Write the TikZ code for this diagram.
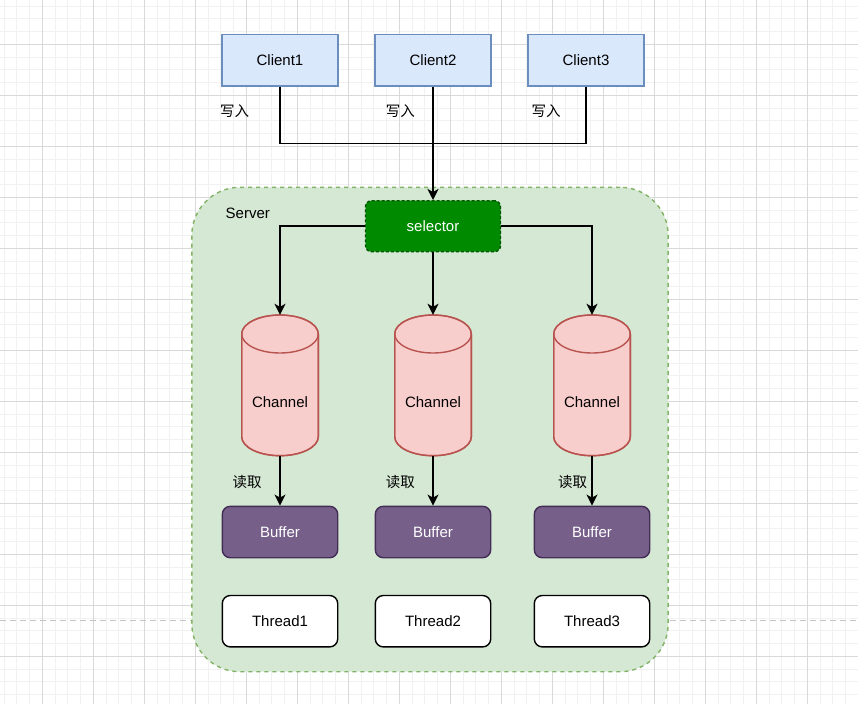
\documentclass[tikz,border=0pt]{standalone}
\usepackage{fontspec}
\setmainfont{Liberation Sans}
\newfontfamily\cjk{Noto Sans CJK SC}
\usetikzlibrary{arrows.meta}
\definecolor{gridminor}{HTML}{F1F1F1}
\definecolor{gridmajor}{HTML}{D9D9D9}
\definecolor{clientfill}{HTML}{DAE8FC}
\definecolor{clientdraw}{HTML}{6C8EBF}
\definecolor{serverfill}{HTML}{D5E8D4}
\definecolor{serverdraw}{HTML}{82B366}
\definecolor{selfill}{HTML}{008A00}
\definecolor{seldraw}{HTML}{005700}
\definecolor{chfill}{HTML}{F8CECC}
\definecolor{chdraw}{HTML}{B85450}
\definecolor{buffill}{HTML}{76608A}
\definecolor{bufdraw}{HTML}{432D57}
\definecolor{sepline}{HTML}{C4C4C4}
\newcommand{\cylpath}[3]{%
  (#1-38.3,#2+19) -- (#1-38.3,#3-19)
  .. controls (#1-38.3,#3-19+10.5) and (#1-21.15,#3) .. (#1,#3)
  .. controls (#1+21.15,#3) and (#1+38.3,#3-19+10.5) .. (#1+38.3,#3-19)
  -- (#1+38.3,#2+19)
  .. controls (#1+38.3,#2+19-10.5) and (#1+21.15,#2) .. (#1,#2)
  .. controls (#1-21.15,#2) and (#1-38.3,#2+19-10.5) .. (#1-38.3,#2+19) -- cycle}
\newcommand{\cyltop}[2]{%
  (#1-38.3,#2+19)
  .. controls (#1-38.3,#2+19+10.5) and (#1-21.15,#2+38) .. (#1,#2+38)
  .. controls (#1+21.15,#2+38) and (#1+38.3,#2+19+10.5) .. (#1+38.3,#2+19)}
\begin{document}
\begin{tikzpicture}[x=1pt,y=-1pt,
  every node/.style={font=\fontsize{15}{18}\selectfont},
  client/.style={draw=clientdraw,fill=clientfill,line width=1.4pt,minimum width=115.7pt,minimum height=51.4pt,inner sep=0pt},
  bufbox/.style={draw=bufdraw,fill=buffill,text=white,line width=1.4pt,rounded corners=8pt,minimum width=115.4pt,minimum height=51.4pt,inner sep=0pt},
  thrbox/.style={draw=black,fill=white,line width=1.4pt,rounded corners=8pt,minimum width=115.4pt,minimum height=51.4pt,inner sep=0pt},
  chbox/.style={draw=none,minimum width=76.6pt,minimum height=140.7pt,inner sep=0pt},
  cyl/.style={draw=chdraw,fill=chfill,line width=1.4pt},
  lbl/.style={font=\cjk\fontsize{14.5}{17}\selectfont,inner sep=0pt},
  arr/.style={line width=1.8pt,-{Stealth[length=11pt,width=11pt,inset=3pt]}},
  ln/.style={line width=1.8pt}]
\useasboundingbox (0,0) rectangle (858,704);
\fill[white] (0,0) rectangle (858,704);
% grid
\foreach \i in {0,...,67} {
  \draw[gridminor,line width=1pt] ({4.05+12.75*\i},0) -- ({4.05+12.75*\i},704);
}
\foreach \i in {0,...,55} {
  \draw[gridminor,line width=1pt] (0,{6.05+12.75*\i}) -- (858,{6.05+12.75*\i});
}
\foreach \i in {0,...,17} {
  \draw[gridmajor,line width=1pt] ({-8.7+51*\i},0) -- ({-8.7+51*\i},704);
}
\foreach \i in {0,...,14} {
  \draw[gridmajor,line width=1pt] (0,{-6.7+51*\i}) -- (858,{-6.7+51*\i});
}
\coordinate (sepL) at (0,620.7);
\coordinate (sepR) at (858,620.7);
\draw[sepline,line width=1.2pt,dash pattern=on 6pt off 4pt] (sepL) -- (sepR);
% server
\node[draw=serverdraw,fill=serverfill,line width=1.4pt,dash pattern=on 4pt off 4pt,rounded corners=48pt,minimum width=476.3pt,minimum height=484.4pt,inner sep=0pt] (server) at (430,429.5) {};
\node[anchor=west,inner sep=0pt] (servert) at (225.5,213.8) {Server};
% clients
\node[client] (c1) at (280,60.3) {Client1};
\node[client] (c2) at (433,60.3) {Client2};
\node[client] (c3) at (586,60.3) {Client3};
\node[lbl] (w1) at (234.7,111.5) {写入};
\node[lbl] (w2) at (400.3,111.5) {写入};
\node[lbl] (w3) at (546,111.5) {写入};
% selector
\node[draw=seldraw,fill=selfill,text=white,line width=1.4pt,dash pattern=on 3pt off 2pt,rounded corners=6pt,minimum width=135pt,minimum height=51pt,inner sep=0pt] (sel) at (433,226.2) {selector};
\draw[ln] (c1.south) -- ++(0,56.7) -| (c3.south);
\draw[arr] (c2.south) -- (sel.north);
% channels
\fill[cyl] \cylpath{280}{315}{455.7};
\draw[cyl,fill=none] \cyltop{280}{315};
\fill[cyl] \cylpath{433}{315}{455.7};
\draw[cyl,fill=none] \cyltop{433}{315};
\fill[cyl] \cylpath{592}{315}{455.7};
\draw[cyl,fill=none] \cyltop{592}{315};
\draw[cyl,fill=none] \cylpath{280}{315}{455.7};
\draw[cyl,fill=none] \cylpath{433}{315}{455.7};
\draw[cyl,fill=none] \cylpath{592}{315}{455.7};
\node[chbox] (ch1) at (280,385.35) {};
\node[chbox] (ch2) at (433,385.35) {};
\node[chbox] (ch3) at (592,385.35) {};
\node (ch1t) at (280,402.5) {Channel};
\node (ch2t) at (433,402.5) {Channel};
\node (ch3t) at (592,402.5) {Channel};
\draw[arr] (sel.west) -| (ch1.north);
\draw[arr] (sel.south) -- (ch2.north);
\draw[arr] (sel.east) -| (ch3.north);
% buffers
\node[bufbox] (b1) at (280,532) {Buffer};
\node[bufbox] (b2) at (433,532) {Buffer};
\node[bufbox] (b3) at (592,532) {Buffer};
\draw[arr] (ch1.south) -- (b1.north);
\draw[arr] (ch2.south) -- (b2.north);
\draw[arr] (ch3.south) -- (b3.north);
\node[lbl] (r1) at (247,481.7) {读取};
\node[lbl] (r2) at (400.3,481.7) {读取};
\node[lbl] (r3) at (572.5,481.7) {读取};
% threads
\node[thrbox] (t1) at (280,621.2) {Thread1};
\node[thrbox] (t2) at (433,621.2) {Thread2};
\node[thrbox] (t3) at (592,621.2) {Thread3};
\end{tikzpicture}
\end{document}
